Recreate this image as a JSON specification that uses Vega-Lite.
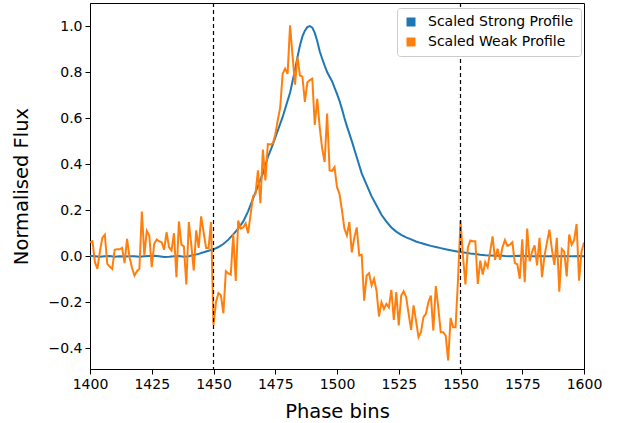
{
  "$schema": "https://vega.github.io/schema/vega-lite/v6.json",
  "width": 494,
  "height": 366,
  "autosize": {"type": "none"},
  "padding": {"left": 90, "top": 3, "right": 35, "bottom": 54},
  "background": "white",
  "config": {
    "view": {"stroke": "black", "strokeWidth": 1},
    "font": "DejaVu Sans",
    "axis": {
      "grid": false,
      "domainColor": "black",
      "tickColor": "black",
      "tickSize": 5,
      "labelColor": "black",
      "labelFont": "DejaVu Sans",
      "labelFontSize": 14,
      "labelPadding": 3,
      "labelFlush": false,
      "labelOverlap": false,
      "titleFont": "DejaVu Sans",
      "titleFontSize": 19.5,
      "titleFontWeight": "normal",
      "titleColor": "black"
    },
    "legend": {
      "labelFont": "DejaVu Sans",
      "labelFontSize": 14,
      "labelColor": "black"
    }
  },
  "datasets": {
    "strong": [
      {"bin":1400,"flux":0.002},{"bin":1402,"flux":0.0},{"bin":1404,"flux":-0.002},{"bin":1406,"flux":0.0},{"bin":1408,"flux":0.001},{"bin":1410,"flux":-0.002},{"bin":1412,"flux":0.0},{"bin":1414,"flux":-0.001},{"bin":1416,"flux":0.0},{"bin":1418,"flux":0.0},{"bin":1420,"flux":-0.002},{"bin":1422,"flux":0.0},{"bin":1424,"flux":0.001},{"bin":1426,"flux":0.002},{"bin":1428,"flux":0.0},{"bin":1430,"flux":-0.003},{"bin":1432,"flux":-0.002},{"bin":1434,"flux":0.0},{"bin":1436,"flux":0.001},{"bin":1438,"flux":-0.002},{"bin":1440,"flux":0.0},{"bin":1442,"flux":0.005},{"bin":1444,"flux":0.01},{"bin":1446,"flux":0.017},{"bin":1448,"flux":0.024},{"bin":1450,"flux":0.03},{"bin":1452,"flux":0.04},{"bin":1454,"flux":0.053},{"bin":1456,"flux":0.072},{"bin":1458,"flux":0.095},{"bin":1460,"flux":0.12},{"bin":1462,"flux":0.15},{"bin":1464,"flux":0.195},{"bin":1466,"flux":0.25},{"bin":1468,"flux":0.305},{"bin":1470,"flux":0.36},{"bin":1472,"flux":0.43},{"bin":1474,"flux":0.485},{"bin":1476,"flux":0.545},{"bin":1478,"flux":0.605},{"bin":1480,"flux":0.675},{"bin":1481,"flux":0.71},{"bin":1482,"flux":0.76},{"bin":1483,"flux":0.81},{"bin":1484,"flux":0.865},{"bin":1485,"flux":0.915},{"bin":1486,"flux":0.955},{"bin":1487,"flux":0.98},{"bin":1488,"flux":0.995},{"bin":1489,"flux":1.0},{"bin":1490,"flux":0.993},{"bin":1491,"flux":0.97},{"bin":1492,"flux":0.935},{"bin":1493,"flux":0.89},{"bin":1494,"flux":0.858},{"bin":1495,"flux":0.828},{"bin":1496,"flux":0.8},{"bin":1497,"flux":0.78},{"bin":1498,"flux":0.76},{"bin":1499,"flux":0.732},{"bin":1500,"flux":0.705},{"bin":1501,"flux":0.675},{"bin":1502,"flux":0.64},{"bin":1503,"flux":0.6},{"bin":1504,"flux":0.565},{"bin":1506,"flux":0.5},{"bin":1508,"flux":0.43},{"bin":1510,"flux":0.36},{"bin":1512,"flux":0.31},{"bin":1514,"flux":0.26},{"bin":1516,"flux":0.22},{"bin":1518,"flux":0.18},{"bin":1520,"flux":0.15},{"bin":1522,"flux":0.125},{"bin":1524,"flux":0.107},{"bin":1526,"flux":0.093},{"bin":1528,"flux":0.082},{"bin":1530,"flux":0.073},{"bin":1532,"flux":0.064},{"bin":1534,"flux":0.057},{"bin":1536,"flux":0.051},{"bin":1538,"flux":0.045},{"bin":1540,"flux":0.04},{"bin":1542,"flux":0.035},{"bin":1544,"flux":0.03},{"bin":1546,"flux":0.026},{"bin":1548,"flux":0.022},{"bin":1550,"flux":0.018},{"bin":1552,"flux":0.015},{"bin":1554,"flux":0.012},{"bin":1556,"flux":0.01},{"bin":1558,"flux":0.006},{"bin":1560,"flux":0.004},{"bin":1562,"flux":0.003},{"bin":1564,"flux":0.002},{"bin":1566,"flux":0.003},{"bin":1568,"flux":0.001},{"bin":1570,"flux":0.0},{"bin":1572,"flux":0.001},{"bin":1574,"flux":0.002},{"bin":1576,"flux":0.001},{"bin":1578,"flux":0.0},{"bin":1580,"flux":0.0},{"bin":1582,"flux":0.001},{"bin":1584,"flux":0.0},{"bin":1586,"flux":0.0},{"bin":1588,"flux":0.001},{"bin":1590,"flux":0.0},{"bin":1592,"flux":0.001},{"bin":1594,"flux":0.0},{"bin":1596,"flux":0.0},{"bin":1598,"flux":0.001},{"bin":1600,"flux":0.0}
    ],
    "weak": [
      {"bin":1400,"flux":0.06},{"bin":1401,"flux":0.065},{"bin":1402,"flux":-0.026},{"bin":1403,"flux":-0.055},{"bin":1404,"flux":0.02},{"bin":1405,"flux":0.08},{"bin":1406,"flux":0.094},{"bin":1407,"flux":-0.033},{"bin":1408,"flux":-0.045},{"bin":1409,"flux":-0.055},{"bin":1410,"flux":0.028},{"bin":1411,"flux":0.03},{"bin":1412,"flux":0.03},{"bin":1413,"flux":0.036},{"bin":1414,"flux":-0.03},{"bin":1415,"flux":0.075},{"bin":1416,"flux":-0.004},{"bin":1417,"flux":-0.05},{"bin":1418,"flux":-0.084},{"bin":1419,"flux":-0.065},{"bin":1420,"flux":-0.055},{"bin":1421,"flux":0.194},{"bin":1422,"flux":0.003},{"bin":1423,"flux":0.11},{"bin":1424,"flux":0.09},{"bin":1425,"flux":-0.048},{"bin":1426,"flux":0.054},{"bin":1427,"flux":0.073},{"bin":1428,"flux":0.065},{"bin":1429,"flux":0.061},{"bin":1430,"flux":0.028},{"bin":1431,"flux":0.104},{"bin":1432,"flux":0.039},{"bin":1433,"flux":0.025},{"bin":1434,"flux":0.1},{"bin":1435,"flux":-0.091},{"bin":1436,"flux":0.151},{"bin":1437,"flux":0.05},{"bin":1438,"flux":0.043},{"bin":1439,"flux":-0.123},{"bin":1440,"flux":0.148},{"bin":1441,"flux":0.051},{"bin":1442,"flux":-0.062},{"bin":1443,"flux":0.112},{"bin":1444,"flux":0.036},{"bin":1445,"flux":0.173},{"bin":1446,"flux":0.104},{"bin":1447,"flux":0.036},{"bin":1448,"flux":0.036},{"bin":1449,"flux":0.148},{"bin":1450,"flux":-0.3},{"bin":1451,"flux":-0.2},{"bin":1452,"flux":-0.16},{"bin":1453,"flux":-0.17},{"bin":1454,"flux":-0.248},{"bin":1455,"flux":-0.065},{"bin":1456,"flux":-0.075},{"bin":1457,"flux":-0.08},{"bin":1458,"flux":0.097},{"bin":1459,"flux":-0.108},{"bin":1460,"flux":0.155},{"bin":1461,"flux":0.12},{"bin":1462,"flux":0.125},{"bin":1463,"flux":0.143},{"bin":1464,"flux":0.1},{"bin":1465,"flux":0.18},{"bin":1466,"flux":0.26},{"bin":1467,"flux":0.27},{"bin":1468,"flux":0.373},{"bin":1469,"flux":0.23},{"bin":1470,"flux":0.463},{"bin":1471,"flux":0.329},{"bin":1472,"flux":0.487},{"bin":1473,"flux":0.485},{"bin":1474,"flux":0.49},{"bin":1475,"flux":0.528},{"bin":1476,"flux":0.59},{"bin":1477,"flux":0.645},{"bin":1478,"flux":0.793},{"bin":1479,"flux":0.815},{"bin":1480,"flux":0.792},{"bin":1481,"flux":1.003},{"bin":1482,"flux":0.87},{"bin":1483,"flux":0.745},{"bin":1484,"flux":0.866},{"bin":1485,"flux":0.785},{"bin":1486,"flux":0.78},{"bin":1487,"flux":0.67},{"bin":1488,"flux":0.755},{"bin":1489,"flux":0.765},{"bin":1490,"flux":0.771},{"bin":1491,"flux":0.57},{"bin":1492,"flux":0.684},{"bin":1493,"flux":0.56},{"bin":1494,"flux":0.467},{"bin":1495,"flux":0.409},{"bin":1496,"flux":0.62},{"bin":1497,"flux":0.373},{"bin":1498,"flux":0.37},{"bin":1499,"flux":0.387},{"bin":1500,"flux":0.3},{"bin":1501,"flux":0.271},{"bin":1502,"flux":0.2},{"bin":1503,"flux":0.12},{"bin":1504,"flux":0.09},{"bin":1505,"flux":0.148},{"bin":1506,"flux":0.017},{"bin":1507,"flux":0.08},{"bin":1508,"flux":0.125},{"bin":1509,"flux":0.003},{"bin":1510,"flux":0.006},{"bin":1511,"flux":-0.193},{"bin":1512,"flux":-0.084},{"bin":1513,"flux":-0.074},{"bin":1514,"flux":-0.127},{"bin":1515,"flux":-0.098},{"bin":1516,"flux":-0.15},{"bin":1517,"flux":-0.262},{"bin":1518,"flux":-0.2},{"bin":1519,"flux":-0.229},{"bin":1520,"flux":-0.207},{"bin":1521,"flux":-0.222},{"bin":1522,"flux":-0.146},{"bin":1523,"flux":-0.277},{"bin":1524,"flux":-0.156},{"bin":1525,"flux":-0.301},{"bin":1526,"flux":-0.171},{"bin":1527,"flux":-0.152},{"bin":1528,"flux":-0.178},{"bin":1529,"flux":-0.25},{"bin":1530,"flux":-0.32},{"bin":1531,"flux":-0.214},{"bin":1532,"flux":-0.28},{"bin":1533,"flux":-0.352},{"bin":1534,"flux":-0.33},{"bin":1535,"flux":-0.265},{"bin":1536,"flux":-0.25},{"bin":1537,"flux":-0.2},{"bin":1538,"flux":-0.171},{"bin":1539,"flux":-0.323},{"bin":1540,"flux":-0.13},{"bin":1541,"flux":-0.222},{"bin":1542,"flux":-0.33},{"bin":1543,"flux":-0.33},{"bin":1544,"flux":-0.345},{"bin":1545,"flux":-0.453},{"bin":1546,"flux":-0.268},{"bin":1547,"flux":-0.309},{"bin":1548,"flux":-0.309},{"bin":1549,"flux":-0.1},{"bin":1550,"flux":0.155},{"bin":1551,"flux":0.0},{"bin":1552,"flux":-0.123},{"bin":1553,"flux":0.039},{"bin":1554,"flux":0.068},{"bin":1555,"flux":0.065},{"bin":1556,"flux":0.065},{"bin":1557,"flux":-0.12},{"bin":1558,"flux":-0.019},{"bin":1559,"flux":-0.08},{"bin":1560,"flux":-0.026},{"bin":1561,"flux":-0.048},{"bin":1562,"flux":0.02},{"bin":1563,"flux":0.086},{"bin":1564,"flux":-0.016},{"bin":1565,"flux":0.032},{"bin":1566,"flux":-0.015},{"bin":1567,"flux":0.039},{"bin":1568,"flux":0.07},{"bin":1569,"flux":0.045},{"bin":1570,"flux":0.05},{"bin":1571,"flux":0.061},{"bin":1572,"flux":-0.03},{"bin":1573,"flux":-0.035},{"bin":1574,"flux":-0.098},{"bin":1575,"flux":0.073},{"bin":1576,"flux":-0.113},{"bin":1577,"flux":0.12},{"bin":1578,"flux":-0.022},{"bin":1579,"flux":0.02},{"bin":1580,"flux":0.047},{"bin":1581,"flux":-0.04},{"bin":1582,"flux":0.08},{"bin":1583,"flux":-0.091},{"bin":1584,"flux":0.0},{"bin":1585,"flux":0.06},{"bin":1586,"flux":0.115},{"bin":1587,"flux":0.03},{"bin":1588,"flux":-0.038},{"bin":1589,"flux":0.08},{"bin":1590,"flux":-0.154},{"bin":1591,"flux":0.032},{"bin":1592,"flux":0.02},{"bin":1593,"flux":-0.088},{"bin":1594,"flux":0.094},{"bin":1595,"flux":0.05},{"bin":1596,"flux":0.07},{"bin":1597,"flux":0.14},{"bin":1598,"flux":-0.106},{"bin":1599,"flux":0.02},{"bin":1600,"flux":0.06}
    ],
    "marks": [{"bin":1450},{"bin":1550}]
  },
  "layer": [
    {
      "data": {"name": "strong"},
      "transform": [{"calculate": "'Scaled Strong Profile'", "as": "series"}],
      "mark": {"type": "line", "strokeWidth": 2, "clip": true},
      "encoding": {
        "x": {"field": "bin", "type": "quantitative", "scale": {"domain": [1400, 1600], "nice": false, "zero": false},
              "axis": {"values": [1400,1425,1450,1475,1500,1525,1550,1575,1600], "format": "d", "title": "Phase bins", "titleY": 42, "titleBaseline": "middle"}},
        "y": {"field": "flux", "type": "quantitative", "scale": {"domain": [-0.49, 1.1], "nice": false, "zero": false},
              "axis": {"values": [-0.4,-0.2,0,0.2,0.4,0.6,0.8,1.0], "format": ".1f", "title": "Normalised Flux", "titleX": -69, "titleBaseline": "middle"}},
        "color": {"field": "series", "type": "nominal",
                  "scale": {"domain": ["Scaled Strong Profile", "Scaled Weak Profile"], "range": ["#1f77b4", "#ff7f0e"]},
                  "legend": {"title": null, "orient": "none", "legendX": 307, "legendY": 5, "symbolType": "square", "symbolSize": 81,
                             "fillColor": "white", "strokeColor": "#cccccc", "padding": 7, "cornerRadius": 3, "rowPadding": 6, "labelOffset": 10,
                             "encode": {"symbols": {"update": {"fill": {"scale": "color", "field": "value"}, "fillOpacity": {"value": 1}, "strokeWidth": {"value": 0}}}}}}
      }
    },
    {
      "data": {"name": "weak"},
      "transform": [{"calculate": "'Scaled Weak Profile'", "as": "series"}],
      "mark": {"type": "line", "strokeWidth": 2, "clip": true},
      "encoding": {
        "x": {"field": "bin", "type": "quantitative"},
        "y": {"field": "flux", "type": "quantitative"},
        "color": {"field": "series", "type": "nominal"}
      }
    },
    {
      "data": {"name": "marks"},
      "mark": {"type": "rule", "color": "black", "strokeWidth": 1.2, "strokeDash": [4, 3]},
      "encoding": {
        "x": {"field": "bin", "type": "quantitative"}
      }
    }
  ]
}
